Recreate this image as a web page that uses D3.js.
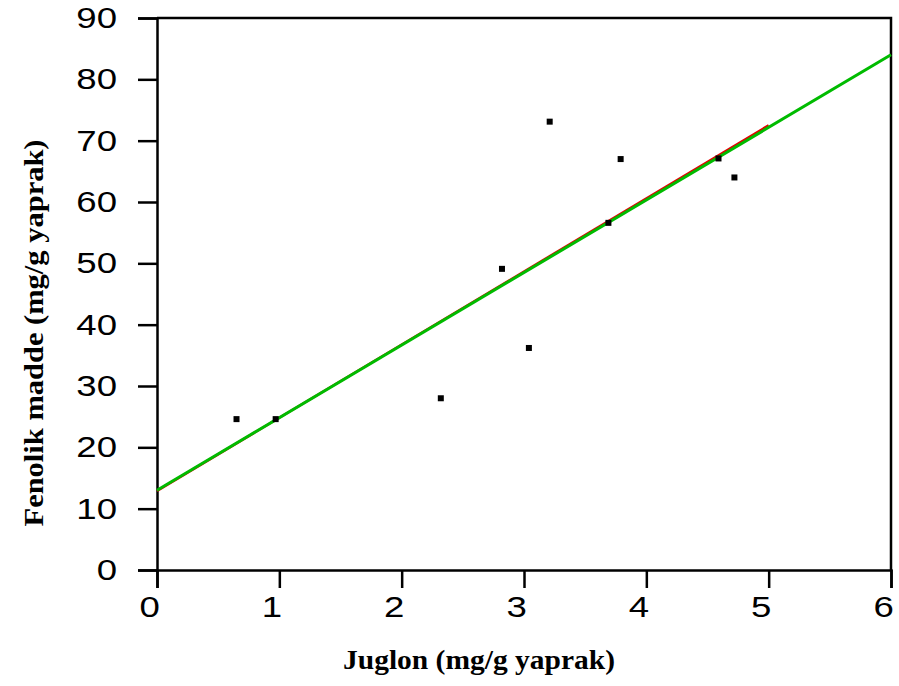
<!DOCTYPE html>
<html>
<head>
<meta charset="utf-8">
<script src="https://cdn.jsdelivr.net/npm/d3@7"></script>
<style>
  html, body { margin: 0; padding: 0; background: #fff; }
  svg { display: block; }
</style>
</head>
<body>
<svg id="chart" width="899" height="686"></svg>
<script>
// ---- Data ----
const juglon  = [0.65, 0.97, 2.32, 2.82, 3.04, 3.21, 3.69, 3.79, 4.59, 4.72];
const fenolik = [24.6, 24.6, 28.0, 49.1, 36.2, 73.1, 56.6, 67.0, 67.1, 64.0];
// regression lines: endpoints
const redLine   = [[0, 12.9], [5, 72.5]];
const greenLine = [[0, 13.0], [6, 84.0]];
const xTicks = [0, 1, 2, 3, 4, 5, 6];
const yTicks = [0, 10, 20, 30, 40, 50, 60, 70, 80, 90];
const xTitle = "Juglon (mg/g yaprak)";
const yTitle = "Fenolik madde (mg/g yaprak)";

// ---- Layout ----
const W = 899, H = 686;
const m = { left: 157, right: 8, top: 18, bottom: 116 };
const svg = d3.select("#chart");
const SX = 1.22; // horizontal glyph stretch of tick labels

const x = d3.scaleLinear().domain([0, 6]).range([m.left, W - m.right]);
const y = d3.scaleLinear().domain([0, 90]).range([H - m.bottom, m.top]);

// frame (top and right)
svg.append("path")
  .attr("d", `M${x(0)},${y(90)}H${x(6)}V${y(0)}`)
  .attr("fill", "none").attr("stroke", "#000").attr("stroke-width", 2.5);

// X axis
const xAxis = svg.append("g").attr("transform", `translate(0,${y(0)})`)
  .call(d3.axisBottom(x).tickValues(xTicks).tickFormat(d3.format("d")).tickSizeOuter(0).tickSize(18).tickPadding(8));
xAxis.select(".domain").attr("stroke-width", 2.5);
xAxis.selectAll(".tick line").attr("stroke-width", 2.5);
xAxis.selectAll(".tick text")
  .attr("font-family", "'Liberation Sans', Arial, sans-serif")
  .attr("font-size", 30).attr("fill", "#000")
  .attr("dx", -6.5)
  .attr("transform", `scale(${SX},1)`);

// Y axis
const yAxis = svg.append("g").attr("transform", `translate(${x(0)},0)`)
  .call(d3.axisLeft(y).tickValues(yTicks).tickFormat(d3.format("d")).tickSizeOuter(0).tickSize(19).tickPadding(21));
yAxis.select(".domain").attr("stroke-width", 2.5);
yAxis.selectAll(".tick line").attr("stroke-width", 2.5);
yAxis.selectAll(".tick text")
  .attr("font-family", "'Liberation Sans', Arial, sans-serif")
  .attr("font-size", 30).attr("fill", "#000")
  .attr("x", -40 / SX)
  .attr("transform", `scale(${SX},1)`);

// Lines
const line = d3.line().x(d => x(d[0])).y(d => y(d[1]));
svg.append("path").datum(redLine).attr("d", line)
  .attr("fill", "none").attr("stroke", "#e00000").attr("stroke-width", 2.5);
svg.append("path").datum(greenLine).attr("d", line)
  .attr("fill", "none").attr("stroke", "#00bb00").attr("stroke-width", 3);

// Points
const pts = juglon.map((v, i) => [v, fenolik[i]]);
svg.append("g").selectAll("rect").data(pts).join("rect")
  .attr("x", d => x(d[0]) - 3).attr("y", d => y(d[1]) - 3)
  .attr("width", 6).attr("height", 6).attr("fill", "#000");

// Titles
svg.append("text")
  .attr("x", 479).attr("y", 669)
  .attr("text-anchor", "middle")
  .attr("font-family", "'Liberation Serif', 'Times New Roman', serif")
  .attr("font-weight", "bold").attr("font-size", 27)
  .attr("textLength", 272).attr("lengthAdjust", "spacingAndGlyphs")
  .text(xTitle);

svg.append("text")
  .attr("transform", `translate(43,333) rotate(-90)`)
  .attr("text-anchor", "middle")
  .attr("font-family", "'Liberation Serif', 'Times New Roman', serif")
  .attr("font-weight", "bold").attr("font-size", 27)
  .attr("textLength", 387).attr("lengthAdjust", "spacingAndGlyphs")
  .text(yTitle);
</script>
</body>
</html>
